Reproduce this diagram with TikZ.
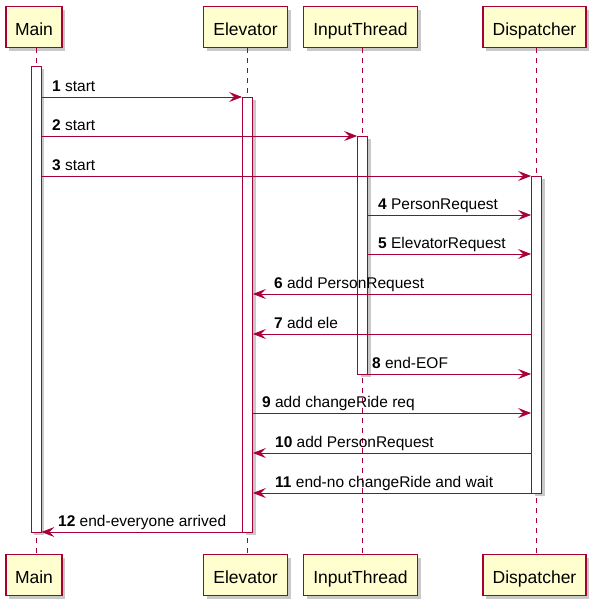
\documentclass[tikz,border=0pt]{standalone}
\usepackage{fontspec}
\setmainfont{Liberation Sans}
\usetikzlibrary{arrows.meta,shadows}

\definecolor{umlred}{HTML}{A80036}
\definecolor{umlfill}{HTML}{FEFECE}

\tikzset{
	actor/.style={draw=umlred, fill=umlfill, line width=1.1pt, minimum height=41pt, inner sep=0pt,
		font=\fontsize{17.5}{20}\selectfont, text height=16pt, text depth=0pt,
		drop shadow={shadow xshift=3pt, shadow yshift=-3pt, opacity=0.3, fill=black!70}},
	lifeline/.style={draw=umlred, line width=0.8pt, dash pattern=on 5pt off 5pt},
	actbar/.style={draw=umlred, fill=white, line width=0.8pt, minimum width=10pt, inner sep=0pt,
		drop shadow={shadow xshift=3pt, shadow yshift=-3pt, opacity=0.3, fill=black!70}},
	msg/.style={draw=umlred, line width=0.8pt, -{Stealth[length=13pt, width=10pt, inset=5pt]}},
	msglabel/.style={anchor=base west, inner sep=0pt, font=\fontsize{15.5}{18}\selectfont}
}

\begin{document}
\begin{tikzpicture}[x=1pt, y=-1pt]
	\useasboundingbox (0,0) rectangle (601,611);

	% participants, top and bottom
	\node[actor, minimum width=56pt] (main) at (34,27) {Main};
	\node[actor, minimum width=84pt] (elevator) at (245.5,27) {Elevator};
	\node[actor, minimum width=114pt] (input) at (360.5,27) {InputThread};
	\node[actor, minimum width=103pt] (dispatcher) at (534.5,27) {Dispatcher};

	\node[actor, minimum width=56pt] (mainB) at (34,575) {Main};
	\node[actor, minimum width=84pt] (elevatorB) at (245.5,575) {Elevator};
	\node[actor, minimum width=114pt] (inputB) at (360.5,575) {InputThread};
	\node[actor, minimum width=103pt] (dispatcherB) at (534.5,575) {Dispatcher};

	% lifelines
	\draw[lifeline] ([xshift=2pt]main.south) -- ([xshift=2pt]mainB.north);
	\draw[lifeline] ([xshift=2pt]elevator.south) -- ([xshift=2pt]elevatorB.north);
	\draw[lifeline] ([xshift=2pt]input.south) -- ([xshift=2pt]inputB.north);
	\draw[lifeline] ([xshift=2pt]dispatcher.south) -- ([xshift=2pt]dispatcherB.north);

	% activations
	\node[actbar, minimum height=466pt] (mainbar) at (36,299) {};
	\node[actbar, minimum height=435pt] (elevbar) at (247.5,314.5) {};
	\node[actbar, minimum height=238pt] (inbar) at (362.5,255) {};
	\node[actbar, minimum height=317pt] (dispbar) at (536.5,334.5) {};

	% messages
	\draw[msg] (mainbar.east |- 0,97) -- (elevbar.west |- 0,97);
	\node[msglabel] (m1) at (52,91) {\textbf{1} start};
	\draw[msg] (mainbar.east |- 0,136) -- (inbar.west |- 0,136);
	\node[msglabel] (m2) at (52,130) {\textbf{2} start};
	\draw[msg] (mainbar.east |- 0,176) -- (dispbar.west |- 0,176);
	\node[msglabel] (m3) at (52,170) {\textbf{3} start};
	\draw[msg] (inbar.east |- 0,215) -- (dispbar.west |- 0,215);
	\node[msglabel] (m4) at (378,209) {\textbf{4} PersonRequest};
	\draw[msg] (inbar.east |- 0,254) -- (dispbar.west |- 0,254);
	\node[msglabel] (m5) at (378,248) {\textbf{5} ElevatorRequest};
	\draw[msg] (dispbar.west |- 0,294) -- (elevbar.east |- 0,294);
	\node[msglabel] (m6) at (274,288) {\textbf{6} add PersonRequest};
	\draw[msg] (dispbar.west |- 0,334) -- (elevbar.east |- 0,334);
	\node[msglabel] (m7) at (274,328) {\textbf{7} add ele};
	\draw[msg] (inbar.east |- 0,374) -- (dispbar.west |- 0,374);
	\node[msglabel] (m8) at (372,368) {\textbf{8} end-EOF};
	\draw[msg] (elevbar.east |- 0,413) -- (dispbar.west |- 0,413);
	\node[msglabel] (m9) at (262,407) {\textbf{9} add changeRide req};
	\draw[msg] (dispbar.west |- 0,453) -- (elevbar.east |- 0,453);
	\node[msglabel] (m10) at (275,447) {\textbf{10} add PersonRequest};
	\draw[msg] (dispbar.west |- 0,493) -- (elevbar.east |- 0,493);
	\node[msglabel] (m11) at (275,487) {\textbf{11} end-no changeRide and wait};
	\draw[msg] (elevbar.west |- 0,532) -- (mainbar.east |- 0,532);
	\node[msglabel] (m12) at (58,526) {\textbf{12} end-everyone arrived};
\end{tikzpicture}
\end{document}
